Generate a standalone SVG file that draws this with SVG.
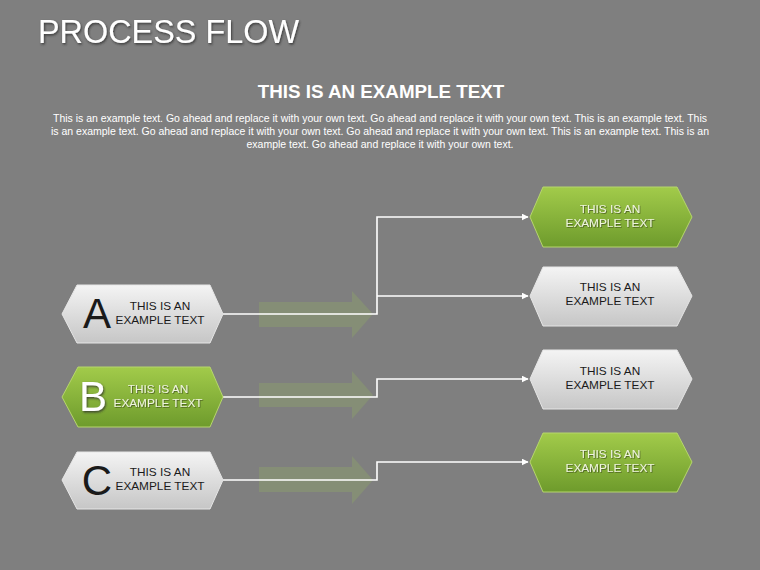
<svg xmlns="http://www.w3.org/2000/svg" width="760" height="570" viewBox="0 0 760 570">
<defs>
<linearGradient id="gGrey" x1="0" y1="0" x2="0" y2="1">
<stop offset="0" stop-color="#f4f4f4"/>
<stop offset="1" stop-color="#c6c6c6"/>
</linearGradient>
<linearGradient id="gGreen" x1="0" y1="0" x2="0" y2="1">
<stop offset="0" stop-color="#a2cb4a"/>
<stop offset="1" stop-color="#6e9b2c"/>
</linearGradient>
<filter id="sh" x="-20%" y="-20%" width="140%" height="160%">
<feDropShadow dx="1" dy="1.5" stdDeviation="0.8" flood-color="#2a2a2a" flood-opacity="0.8"/>
</filter>
<filter id="shs" x="-20%" y="-20%" width="140%" height="160%">
<feDropShadow dx="0.8" dy="0.8" stdDeviation="0.5" flood-color="#3a4a1a" flood-opacity="0.8"/>
</filter>
<marker id="ah" viewBox="0 0 10 10" refX="9" refY="5" markerWidth="7" markerHeight="7" markerUnits="userSpaceOnUse" orient="auto">
<path d="M0,0 L10,5 L0,10 z" fill="#ffffff"/>
</marker>
<style>
.grey{fill:url(#gGrey);stroke:#e6e6e6;stroke-width:1}
.green{fill:url(#gGreen);stroke:#b6d66c;stroke-width:1}
.t{font-family:"Liberation Sans",Arial,sans-serif;font-size:11.8px;text-anchor:middle}
.dk{fill:#1a1a1a}
.lt{fill:#eef4dc;filter:url(#shs)}
.big{font-family:"Liberation Sans",Arial,sans-serif;font-size:42px;text-anchor:middle}
.conn{fill:none;stroke:#ffffff;stroke-width:1.6}
.fa{fill:#858e76}
</style>
</defs>
<rect width="760" height="570" fill="#7f7f7f"/>
<text x="38" y="43" font-family="'Liberation Sans',Arial,sans-serif" font-size="32.4" fill="#ffffff" filter="url(#sh)">PROCESS FLOW</text>
<text x="381" y="98" font-family="'Liberation Sans',Arial,sans-serif" font-size="18.8" font-weight="bold" fill="#ffffff" text-anchor="middle">THIS IS AN EXAMPLE TEXT</text>
<g font-family="'Liberation Sans',Arial,sans-serif" font-size="10.8" fill="#ffffff" text-anchor="middle">
<text x="380" y="122" textLength="654" lengthAdjust="spacingAndGlyphs">This is an example text. Go ahead and replace it with your own text. Go ahead and replace it with your own text. This is an example text. This</text>
<text x="380" y="135" textLength="658" lengthAdjust="spacingAndGlyphs">is an example text. Go ahead and replace it with your own text. Go ahead and replace it with your own text. This is an example text. This is an</text>
<text x="380" y="148" textLength="267" lengthAdjust="spacingAndGlyphs">example text. Go ahead and replace it with your own text.</text>
</g>
<g id="faded-arrows">
<path class="fa" d="M259,302 H352 V291 L373,314 L352,338 V327 H259 z"/>
<path class="fa" d="M259,383 H352 V371 L373,395 L352,419 V407 H259 z"/>
<path class="fa" d="M259,467 H352 V456 L373,480 L352,504 V492 H259 z"/>
</g>
<g id="connectors">
<path class="conn" d="M223,314 H377 V217 H528" marker-end="url(#ah)"/>
<path class="conn" d="M377,296 H528" marker-end="url(#ah)"/>
<path class="conn" d="M223,397 H377 V379 H528" marker-end="url(#ah)"/>
<path class="conn" d="M223,480 H377 V462 H528" marker-end="url(#ah)"/>
</g>
<g id="nodeA">
<path class="grey" d="M62,314 L77,285 H210 L223,314 L210,343 H77 z"/>
<text class="big dk" x="97" y="328">A</text>
<text class="t dk" x="160" y="310">THIS IS AN</text>
<text class="t dk" x="160" y="324">EXAMPLE TEXT</text>
</g>
<g id="nodeB">
<path class="green" d="M62,397 L78,367 H210 L223,397 L210,427 H78 z"/>
<text class="big" x="93" y="411" fill="#ffffff" filter="url(#sh)">B</text>
<text class="t lt" x="158" y="393">THIS IS AN</text>
<text class="t lt" x="158" y="407">EXAMPLE TEXT</text>
</g>
<g id="nodeC">
<path class="grey" d="M62,480 L77,452 H210 L223,480 L210,509 H77 z"/>
<text class="big dk" x="97" y="495">C</text>
<text class="t dk" x="160" y="476">THIS IS AN</text>
<text class="t dk" x="160" y="490">EXAMPLE TEXT</text>
</g>
<g id="node1">
<path class="green" d="M530,217 L543,187 H677 L692,217 L677,247 H543 z"/>
<text class="t lt" x="610" y="213">THIS IS AN</text>
<text class="t lt" x="610" y="227">EXAMPLE TEXT</text>
</g>
<g id="node2">
<path class="grey" d="M530,296 L543,267 H677 L692,296 L677,326 H543 z"/>
<text class="t dk" x="610" y="291">THIS IS AN</text>
<text class="t dk" x="610" y="305">EXAMPLE TEXT</text>
</g>
<g id="node3">
<path class="grey" d="M530,379 L543,350 H677 L692,379 L677,409 H543 z"/>
<text class="t dk" x="610" y="375">THIS IS AN</text>
<text class="t dk" x="610" y="389">EXAMPLE TEXT</text>
</g>
<g id="node4">
<path class="green" d="M530,462 L543,433 H677 L692,462 L677,492 H543 z"/>
<text class="t lt" x="610" y="458">THIS IS AN</text>
<text class="t lt" x="610" y="472">EXAMPLE TEXT</text>
</g>
</svg>
